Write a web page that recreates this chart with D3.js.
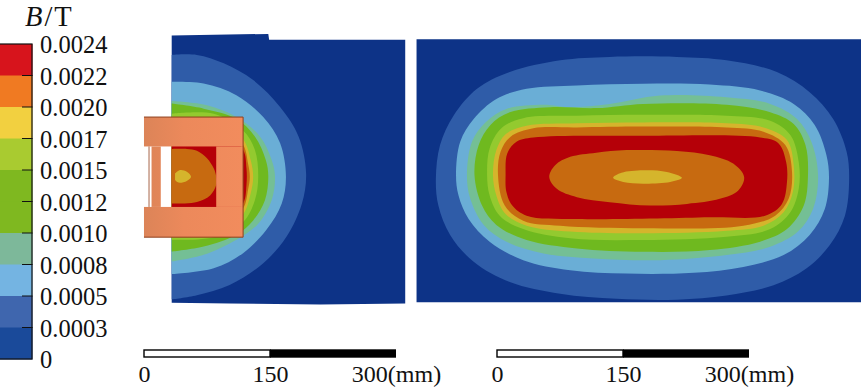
<!DOCTYPE html>
<html>
<head>
<meta charset="utf-8">
<script src="https://cdn.jsdelivr.net/npm/d3@7"></script>
<style>
  html, body { margin: 0; padding: 0; background: #fff; }
  svg { display: block; }
  text { font-family: "Liberation Serif", serif; fill: #111; }
</style>
</head>
<body>
<div id="chart"></div>
<script>
// Legend
const legendLabels = ['0.0024', '0.0022', '0.0020', '0.0017', '0.0015', '0.0012', '0.0010', '0.0008', '0.0005', '0.0003', '0'];
const legendColors = ['#d7141c', '#f07a22', '#f2d040', '#a9cb30', '#7fb820', '#7fb820', '#7db89a', '#74b4e2', '#3f66ae', '#1a4a9a'];

// Scale bar
const scaleTicks = [0, 150, 300];

// Field band colours, low to high
const fieldColors = ['#0d3387', '#2f5ca8', '#6aaed6', '#74bf95', '#6fb91f', '#93ca2f', '#d5b52c', '#c76a10', '#b50008'];

// All contours are [x, y] in mm. Right model: measured from the coil centre.
const rightPanel = [[-274, 164], [256, 164], [256, -149], [-274, -149]];
const rightContours = [
  {band: 1, pts: [[-251,-2],[-246,38],[-230,73],[-202,105],[-163,125],[-103,139],[-44,143],[36,143],[95,139],[155,125],[194,101],[222,69],[238,30],[241,-2],[236,-46],[218,-81],[190,-109],[151,-129],[95,-141],[36,-146],[-36,-145],[-103,-139],[-163,-125],[-206,-101],[-234,-69],[-248,-34]]},
  {band: 2, pts: [[-227,2],[-222,42],[-206,69],[-179,93],[-143,105],[-83,109],[-4,111],[75,110],[135,103],[175,87],[200,62],[214,26],[217,-2],[212,-38],[194,-69],[163,-93],[115,-107],[56,-114],[-24,-115],[-91,-111],[-147,-99],[-187,-77],[-212,-50],[-224,-22]]},
  {band: 3, pts: [[-214,2],[-208,42],[-192,65],[-167,81],[-123,86],[-91,83],[-44,87],[16,97],[95,95],[147,87],[179,69],[196,42],[204,2],[198,-38],[180,-65],[147,-83],[95,-93],[16,-99],[-63,-97],[-123,-91],[-167,-77],[-194,-57],[-210,-26]]},
  {band: 4, pts: [[-205,2],[-200,38],[-186,62],[-163,77],[-115,83],[-60,82],[-4,87],[95,86],[147,77],[175,63],[189,38],[192,2],[187,-34],[167,-62],[135,-77],[75,-87],[-4,-89],[-83,-85],[-143,-75],[-179,-57],[-196,-34]]},
  {band: 5, pts: [[-190,2],[-187,34],[-173,58],[-147,70],[-83,73],[-4,74],[95,73],[147,67],[171,50],[181,18],[181,-14],[171,-42],[147,-62],[95,-71],[-4,-75],[-91,-73],[-147,-62],[-175,-46],[-187,-22]]},
  {band: 6, pts: [[-183,2],[-179,32],[-168,51],[-143,61],[-83,64],[-4,65],[95,64],[139,59],[167,44],[175,14],[174,-18],[163,-42],[139,-58],[95,-64],[-4,-67],[-91,-65],[-143,-58],[-168,-44],[-179,-22]]},
  {band: 7, pts: [[-177,2],[-174,30],[-162,48],[-135,58],[-83,59],[-4,60],[95,59],[139,54],[165,38],[173,6],[169,-26],[153,-46],[115,-58],[-4,-61],[-103,-58],[-147,-52],[-169,-34]]},
  {band: 8, pts: [[-168,2],[-166,28],[-155,42],[-135,47],[-4,49],[135,47],[157,40],[166,18],[167,-6],[161,-32],[141,-46],[75,-48],[-83,-50],[-143,-46],[-160,-34],[-167,-18]]},
  {band: 7, pts: [[-116,0],[-109,14],[-91,24],[-60,29],[-24,32],[36,31],[75,26],[103,16],[116,0],[109,-16],[87,-26],[48,-32],[4,-34],[-44,-30],[-83,-24],[-107,-14]]},
  {band: 6, pts: [[-40,-1],[-30,5],[-4,8],[24,6],[42,-1],[28,-6],[-4,-8],[-28,-6]]}
];

// Left model: half section, x measured from the symmetry axis
const leftPanel = [[0,168],[115,170],[116,163],[278,163],[278,-151],[177,-152],[69,-151],[0,-150]];
const leftContours = [
  {band: 1, pts: [[0,145],[30,145],[62,135],[97,115],[129,83],[151,48],[160,4],[155,-32],[137,-71],[109,-103],[69,-129],[30,-141],[0,-146]]},
  {band: 2, pts: [[0,113],[38,111],[77,97],[109,71],[129,40],[136,0],[131,-32],[113,-63],[85,-91],[50,-109],[0,-116]]},
  {band: 3, pts: [[0,90],[42,85],[77,71],[105,48],[119,20],[123,0],[119,-28],[103,-56],[77,-75],[38,-93],[0,-101]]},
  {band: 4, pts: [[0,87],[38,81],[77,69],[99,48],[112,20],[115,0],[111,-28],[97,-52],[77,-69],[38,-83],[0,-89]]},
  {band: 5, pts: [[0,75],[50,75],[85,55],[99,32],[103,0],[99,-28],[85,-54],[50,-72],[0,-75]]},
  {band: 6, pts: [[0,70],[60,65],[85,45],[94,20],[97,0],[94,-20],[85,-45],[60,-65],[0,-70]]},
  {band: 7, pts: [[0,65],[60,60],[85,38],[91,15],[93,0],[91,-15],[85,-38],[60,-60],[0,-65]]},
  {band: 8, pts: [[0,60],[60,55],[85,32],[89,10],[89,-10],[85,-32],[60,-55],[0,-60]]},
  {band: 7, pts: [[0,33],[18,33],[30,31],[42,22],[50,10],[53,0],[53,-10],[46,-22],[30,-30],[0,-32]]},
  {band: 6, pts: [[4,4],[10,8],[18,6],[23,0],[18,-5],[8,-7],[4,-4]]}
];

// Magnetic core pieces, [x0, x1, yTop, yBottom] in mm from the left model's axis
const corePieces = [[-33, 85, 71, 36], [-33, 85, -36, -72], [53, 85, 36, -36], [-24, -13, 36, -36]];
const coreOutline = [[-33, 71], [85, 71], [85, -72], [-33, -72]];
const coreSliver = [[-27, 36], [-27, -36]];

const width = 861, height = 387;

const svg = d3.select('#chart').append('svg')
  .attr('width', width)
  .attr('height', height);

const defs = svg.append('defs');
const coreGradient = defs.append('linearGradient')
  .attr('id', 'core-gradient')
  .attr('gradientUnits', 'userSpaceOnUse')
  .attr('x1', 144).attr('x2', 244).attr('y1', 0).attr('y2', 0);
coreGradient.append('stop').attr('offset', 0).attr('stop-color', '#dc8458');
coreGradient.append('stop').attr('offset', 0.4).attr('stop-color', '#ec895b');
coreGradient.append('stop').attr('offset', 1).attr('stop-color', '#f28c5d');

// Same mm to pixel ratio for both models
const yScale = d3.scaleLinear().domain([-150, 150]).range([303, 51]);
const xBarLeft = d3.scaleLinear().domain([0, 300]).range([144, 396]);
const xBarRight = d3.scaleLinear().domain([0, 300]).range([497, 749]);
const xLeft = d3.scaleLinear().domain([0, 300]).range([171.7, 423.7]);
const xRight = d3.scaleLinear().domain([0, 300]).range([646.7, 898.7]);

const leftDy = -0.3;

function drawContours(g, xs, dy, panel, contours, closedCurve) {
  const y = v => yScale(v) + dy;
  const smooth = d3.line().x(d => xs(d[0])).y(d => y(d[1]))
    .curve(closedCurve ? d3.curveCatmullRomClosed.alpha(0.5) : d3.curveCatmullRom.alpha(0.5));
  const straight = d3.line().x(d => xs(d[0])).y(d => y(d[1]));

  g.append('path')
    .attr('d', straight(panel) + 'Z')
    .attr('fill', fieldColors[0]);

  g.selectAll('path.band')
    .data(contours)
    .join('path')
    .attr('class', 'band')
    .attr('d', d => smooth(d.pts) + 'Z')
    .attr('fill', d => fieldColors[d.band]);
}

const gLeft = svg.append('g');
drawContours(gLeft, xLeft, leftDy, leftPanel, leftContours, false);
const gRight = svg.append('g');
drawContours(gRight, xRight, 0, rightPanel, rightContours, true);

// Core sits on top of the left field
const coreY = v => yScale(v) + leftDy;
const coreLine = d3.line().x(d => xLeft(d[0])).y(d => coreY(d[1]));
gLeft.selectAll('rect.core-fill')
  .data(corePieces)
  .join('rect')
  .attr('class', 'core-fill')
  .attr('x', d => xLeft(d[0]))
  .attr('y', d => coreY(d[2]))
  .attr('width', d => xLeft(d[1]) - xLeft(d[0]))
  .attr('height', d => coreY(d[3]) - coreY(d[2]))
  .attr('fill', 'url(#core-gradient)');
// outline only around the outer edge of the core
gLeft.append('path')
  .attr('d', coreLine(coreOutline))
  .attr('fill', 'none')
  .attr('stroke', '#8f3f1c')
  .attr('stroke-width', 1);
gLeft.append('path')
  .attr('d', coreLine(coreSliver))
  .attr('fill', 'none')
  .attr('stroke', '#a9664a')
  .attr('stroke-width', 1);

// Legend bar
const legendTop = 44, legendBottom = 359;
const legendY = d3.scalePoint().domain(legendLabels).range([legendTop, legendBottom]);
const legend = svg.append('g');
legend.selectAll('rect.swatch')
  .data(legendColors)
  .join('rect')
  .attr('class', 'swatch')
  .attr('x', 0)
  .attr('y', (d, i) => legendY(legendLabels[i]))
  .attr('width', 32.5)
  .attr('height', legendY.step() + 0.5)
  .attr('fill', d => d);
legend.append('rect')
  .attr('x', -1).attr('y', legendTop)
  .attr('width', 33).attr('height', legendBottom - legendTop)
  .attr('fill', 'none')
  .attr('stroke', '#111')
  .attr('stroke-width', 1.2);
legend.selectAll('line.tick')
  .data(legendLabels.slice(1, -1))
  .join('line')
  .attr('class', 'tick')
  .attr('x1', 22).attr('x2', 32.5)
  .attr('y1', d => legendY(d))
  .attr('y2', d => legendY(d))
  .attr('stroke', '#111')
  .attr('stroke-width', 1);
legend.selectAll('text.label')
  .data(legendLabels)
  .join('text')
  .attr('class', 'label')
  .attr('x', 40)
  .attr('y', d => legendY(d) + 9)
  .attr('font-size', 24.5)
  .text(d => d);

const title = svg.append('text')
  .attr('x', 25)
  .attr('y', 25.5)
  .attr('font-size', 28.5)
  .attr('letter-spacing', 2);
title.append('tspan').attr('font-style', 'italic').text('B');
title.append('tspan').text('/T');

// Scale bars
function drawScaleBar(xs) {
  const g = svg.append('g');
  g.append('rect')
    .attr('x', xs(0)).attr('y', 350)
    .attr('width', xs(150) - xs(0)).attr('height', 7)
    .attr('fill', '#fff')
    .attr('stroke', '#000')
    .attr('stroke-width', 1.4);
  g.append('rect')
    .attr('x', xs(150)).attr('y', 349.3)
    .attr('width', xs(300) - xs(150)).attr('height', 8.4)
    .attr('fill', '#000');

  const axis = d3.axisBottom(xs)
    .tickValues(scaleTicks)
    .tickSize(0)
    .tickFormat(d => d === 300 ? '300(mm)' : d);
  const ag = g.append('g')
    .attr('transform', 'translate(0,358)')
    .call(axis);
  ag.select('.domain').remove();
  ag.selectAll('text')
    .attr('y', 0)
    .attr('dy', 0)
    .attr('transform', 'translate(0,24)')
    .attr('font-family', '"Liberation Serif", serif')
    .attr('font-size', 24)
    .attr('fill', '#111');
}
drawScaleBar(xBarLeft);
drawScaleBar(xBarRight);
</script>
</body>
</html>
